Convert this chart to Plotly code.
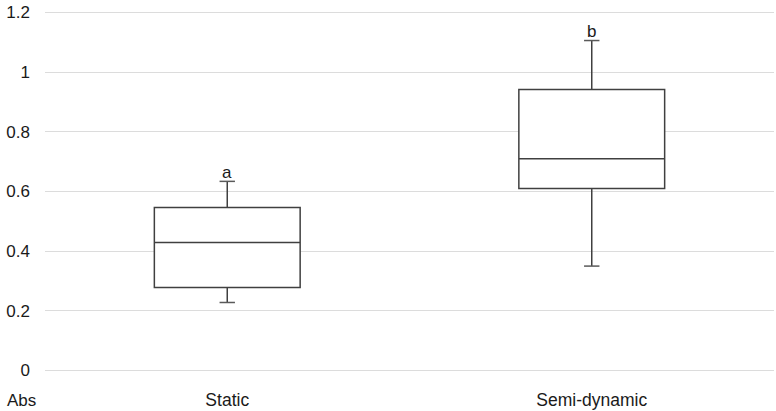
import plotly.graph_objects as go

categories = ["Static", "Semi-dynamic"]
q1 = [0.278, 0.610]
median = [0.429, 0.710]
q3 = [0.546, 0.942]
lower_whisker = [0.228, 0.350]
upper_whisker = [0.634, 1.106]
letters = ["a", "b"]
y_ticks = [0, 0.2, 0.4, 0.6, 0.8, 1.0, 1.2]

FONT = "Liberation Sans, Arial, Helvetica, sans-serif"
box_color = "#404040"
whisker_color = "#5a5a5a"

fig = go.Figure()
fig.add_trace(go.Box(
    x=categories,
    q1=q1, median=median, q3=q3,
    lowerfence=lower_whisker, upperfence=upper_whisker,
    fillcolor="white",
    line=dict(color=box_color, width=1.5),
    whiskerwidth=0,
    boxpoints=False,
    showlegend=False,
    hoverinfo="skip",
))
# whisker caps
fig.add_trace(go.Scatter(
    x=categories + categories,
    y=upper_whisker + lower_whisker,
    mode="markers",
    marker=dict(symbol="line-ew-open", size=11, color=whisker_color,
                line=dict(color=whisker_color, width=1.5)),
    showlegend=False,
    hoverinfo="skip",
))

for c, u, t in zip(categories, upper_whisker, letters):
    fig.add_annotation(x=c, y=u, text=t, showarrow=False, yshift=9,
                       font=dict(size=17, color="#1a1a1a", family=FONT))

fig.add_annotation(xref="paper", yref="paper", x=-0.032, y=0, yshift=-28,
                   xanchor="center", yanchor="middle", text="Abs",
                   showarrow=False,
                   font=dict(size=17, color="#1a1a1a", family=FONT))

fig.update_layout(
    width=776, height=411,
    margin=dict(l=45, r=2, t=11, b=39),
    paper_bgcolor="white",
    plot_bgcolor="white",
    boxgap=0.6,
    boxgroupgap=0,
    font=dict(family=FONT, size=17, color="#1a1a1a"),
    xaxis=dict(showgrid=False, showline=False, zeroline=False,
               automargin=False,
               ticklabelstandoff=15, tickfont=dict(size=17.5)),
    yaxis=dict(range=[-0.005, 1.205], tickvals=y_ticks,
               ticktext=[f"{v:g}" for v in y_ticks],
               showgrid=True, gridcolor="#dcdcdc", gridwidth=1,
               zeroline=False, showline=False, automargin=False,
               ticklabelstandoff=14, tickfont=dict(size=17)),
)

fig.write_html("out.html",
               config={"displayModeBar": False},
               post_script="document.body.style.margin='0';")
